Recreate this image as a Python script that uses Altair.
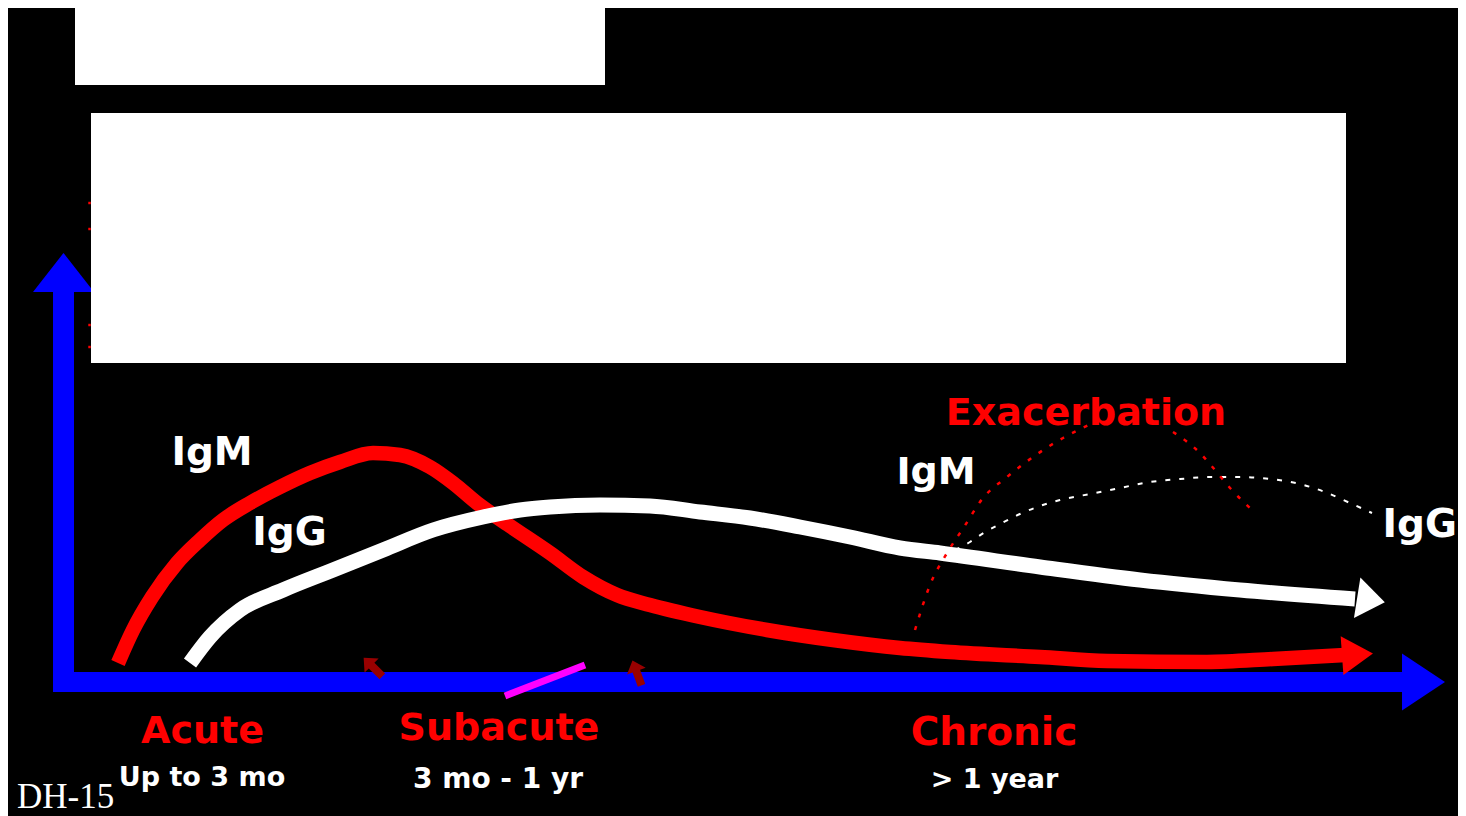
import altair as alt
import pandas as pd

# ---------------- data ----------------
# x = time since infection (arbitrary units), y = antibody level (arbitrary units)
IGM_TIME = [5.4, 6.9, 8.8, 11.3, 13.6, 15.9, 18.6, 21.6, 24.6, 27.6, 30.9, 33.6, 36.6, 38.9,
            41.3, 44.6, 48.6, 51.9, 55.3, 58.6, 63.6, 70.3, 76.9, 83.6, 88.6, 97.6, 104.3,
            114.3, 120.9, 128.1]
IGM_LEVEL = [1.9, 5.2, 8.5, 11.9, 14.2, 16.2, 17.9, 19.5, 20.9, 22.0, 22.9, 22.7, 21.5, 19.9,
             17.9, 15.6, 12.9, 10.5, 8.7, 7.7, 6.5, 5.2, 4.2, 3.4, 3.0, 2.5, 2.1,
             2.0, 2.3, 2.7]

IGG_TIME = [12.6, 14.6, 17.6, 21.9, 26.9, 31.9, 36.9, 41.9, 45.6, 48.6, 53.6, 58.6, 63.6,
            68.6, 73.6, 78.6, 83.6, 87.6, 97.6, 107.6, 117.6, 129.1]
IGG_LEVEL = [1.9, 4.5, 7.2, 9.2, 11.2, 13.2, 15.2, 16.5, 17.2, 17.5, 17.7, 17.6, 17.0,
             16.4, 15.5, 14.5, 13.4, 12.9, 11.5, 10.2, 9.2, 8.3]

# exacerbation (dotted) responses
EXAC_IGG_TIME = [89.1, 90.6, 92.1, 93.6, 95.6, 97.6, 99.6, 102.6, 105.6, 108.6, 111.6, 114.6,
                 117.6, 120.6, 123.6, 126.1, 128.6, 130.8]
EXAC_IGG_LEVEL = [13.2, 14.0, 15.0, 15.8, 16.8, 17.6, 18.2, 18.8, 19.4, 20.0, 20.3, 20.5,
                  20.5, 20.3, 19.8, 19.0, 17.9, 16.9]
EXAC_IGM_RISE_TIME = [85.1, 86.6, 88.3, 90.0, 91.9, 94.3, 96.9, 99.9, 102.7]
EXAC_IGM_RISE_LEVEL = [5.2, 9.7, 12.9, 15.5, 18.4, 20.5, 22.5, 24.4, 25.8]
EXAC_IGM_FALL_TIME = [110.9, 112.2, 113.6, 115.1, 116.7, 118.6]
EXAC_IGM_FALL_LEVEL = [25.0, 24.1, 22.9, 21.2, 19.3, 17.4]

# phase labels
PHASES = ["Acute", "Subacute", "Chronic"]
PHASE_SPANS = ["Up to 3 mo", "3 mo - 1 yr", "> 1 year"]
PHASE_CENTERS = [13.85, 43.5, 93.0]

# ---------------- scales ----------------
X = alt.Scale(domain=[-5.6, 139.4], nice=False, zero=False)
Y = alt.Scale(domain=[-13.4, 67.4], nice=False, zero=False)
W, H = 1450, 808

RED = "#ff0000"
WHITE = "#ffffff"
BLUE = "#0000ff"
FONT = "DejaVu Sans"


def enc(tf="t", lf="level"):
    return dict(x=alt.X(f"{tf}:Q", scale=X, axis=None),
                y=alt.Y(f"{lf}:Q", scale=Y, axis=None))


def curve(times, levels, color, width, dash=None):
    df = pd.DataFrame({"t": times, "level": levels, "i": list(range(len(times)))})
    kw = dict(color=color, strokeWidth=width, strokeCap="butt", interpolate="monotone")
    if dash:
        kw["strokeDash"] = dash
    return alt.Chart(df).mark_line(**kw).encode(**enc(), order="i:Q")


# axes (blue arrows)
axes_df = pd.DataFrame({
    "t": [-1.1, -0.05], "t2": [133.9, -0.05],
    "level": [0.0, -1.0], "level2": [0.0, 39.0],
    "w": [20, 21],
})
axes = alt.Chart(axes_df).mark_rule(color=BLUE, strokeCap="butt").encode(
    x=alt.X("t:Q", scale=X, axis=None), x2="t2:Q",
    y=alt.Y("level:Q", scale=Y, axis=None), y2="level2:Q",
    strokeWidth=alt.StrokeWidth("w:Q", scale=None),
)

heads_df = pd.DataFrame({
    "t": [135.95, -0.05, 129.35, 130.7],
    "level": [0.0, 40.95, 2.75, 8.2],
    "shape": ["M-0.754,-1L0.754,0L-0.754,1Z", "M-1,0.64L0,-0.64L1,0.64Z",
              "M-0.795,-1L0.795,0L-0.795,1Z", "M-0.683,-1L0.683,0L-0.683,1Z"],
    "size": [3249, 3721, 1521, 1681],
    "angle": [0, 0, 356, 9],
    "color": [BLUE, BLUE, RED, WHITE],
})


def heads(df):
    return alt.Chart(df).mark_point(filled=True, opacity=1, strokeWidth=0).encode(
        **enc(),
        shape=alt.Shape("shape:N", scale=None),
        size=alt.Size("size:Q", scale=None),
        angle=alt.Angle("angle:Q", scale=None),
        color=alt.Color("color:N", scale=None),
    )


blue_heads = heads(heads_df.iloc[:2])
red_head = heads(heads_df.iloc[2:3])
white_head = heads(heads_df.iloc[3:4])

# phase markers on the time axis
slash = alt.Chart(pd.DataFrame({"t": [44.1, 52.1], "level": [-1.4, 1.7], "i": [0, 1]})).mark_line(
    color="#ff00ff", strokeWidth=7, strokeCap="butt").encode(**enc(), order="i:Q")

pins = alt.Chart(pd.DataFrame({"t": [30.9, 57.3], "level": [1.5, 0.9], "angle": [315, 340]})).mark_point(
    filled=True, opacity=1, strokeWidth=0, color="#990000", size=700,
    shape="M0,-1L-0.75,-0.15L-0.3,-0.15L-0.3,1L0.3,1L0.3,-0.15L0.75,-0.15Z").encode(
    **enc(), angle=alt.Angle("angle:Q", scale=None))

ticks = alt.Chart(pd.DataFrame({"t": [2.55] * 4, "level": [47.9, 45.3, 35.7, 33.5]})).mark_square(
    color=RED, size=6, opacity=1).encode(**enc())

igm = curve(IGM_TIME, IGM_LEVEL, RED, 14.5)
igg = curve(IGG_TIME, IGG_LEVEL, WHITE, 15)
exac_igg = curve(EXAC_IGG_TIME, EXAC_IGG_LEVEL, WHITE, 2, [5, 9])
exac_igm1 = curve(EXAC_IGM_RISE_TIME, EXAC_IGM_RISE_LEVEL, RED, 2.5, [4, 9])
exac_igm2 = curve(EXAC_IGM_FALL_TIME, EXAC_IGM_FALL_LEVEL, RED, 2.5, [4, 9])

# redacted (blank) boxes
boxes_df = pd.DataFrame({"t": [1.1, 2.7], "t2": [54.1, 128.2],
                         "level": [67.4, 56.9], "level2": [59.7, 31.9]})
boxes = alt.Chart(boxes_df).mark_rect(color=WHITE, opacity=1).encode(
    x=alt.X("t:Q", scale=X, axis=None), x2="t2:Q",
    y=alt.Y("level:Q", scale=Y, axis=None), y2="level2:Q")

# labels
labels_df = pd.DataFrame({
    "text": ["IgM", "IgG", "IgM", "Exacerbation"] + PHASES + PHASE_SPANS,
    "t": [14.8, 22.55, 87.2, 102.2] + PHASE_CENTERS + [13.8, 43.4, 93.05],
    "level": [21.7, 13.7, 19.8, 25.7, -6.1, -5.8, -6.3, -10.4, -10.6, -10.6],
    "size": [39, 39, 38, 38, 38, 38, 39, 27, 28, 27],
    "color": [WHITE, WHITE, WHITE, RED, RED, RED, RED, WHITE, WHITE, WHITE],
})
labels = alt.Chart(labels_df).mark_text(font=FONT, fontWeight="bold", align="center",
                                        baseline="alphabetic").encode(
    **enc(), text="text:N",
    size=alt.Size("size:Q", scale=None),
    color=alt.Color("color:N", scale=None))

igg_end_label = alt.Chart(pd.DataFrame({"t": [139.3], "level": [14.5], "text": ["IgG"]})).mark_text(
    font=FONT, fontWeight="bold", fontSize=39, color=WHITE, align="right",
    baseline="alphabetic").encode(**enc(), text="text:N")

code = alt.Chart(pd.DataFrame({"t": [-4.7], "level": [-12.6], "text": ["DH-15"]})).mark_text(
    font="Liberation Serif", fontSize=35, color=WHITE, align="left", baseline="alphabetic").encode(
    **enc(), text="text:N")

chart = alt.layer(
    axes, blue_heads, slash, pins, ticks,
    igm, red_head,
    igg, white_head,
    exac_igg, exac_igm1, exac_igm2,
    boxes, labels, igg_end_label, code,
).properties(width=W, height=H, background="black", padding=0, autosize="none").configure_view(
    stroke=None)

chart.save("out.html", embed_options={"renderer": "svg", "actions": False})
